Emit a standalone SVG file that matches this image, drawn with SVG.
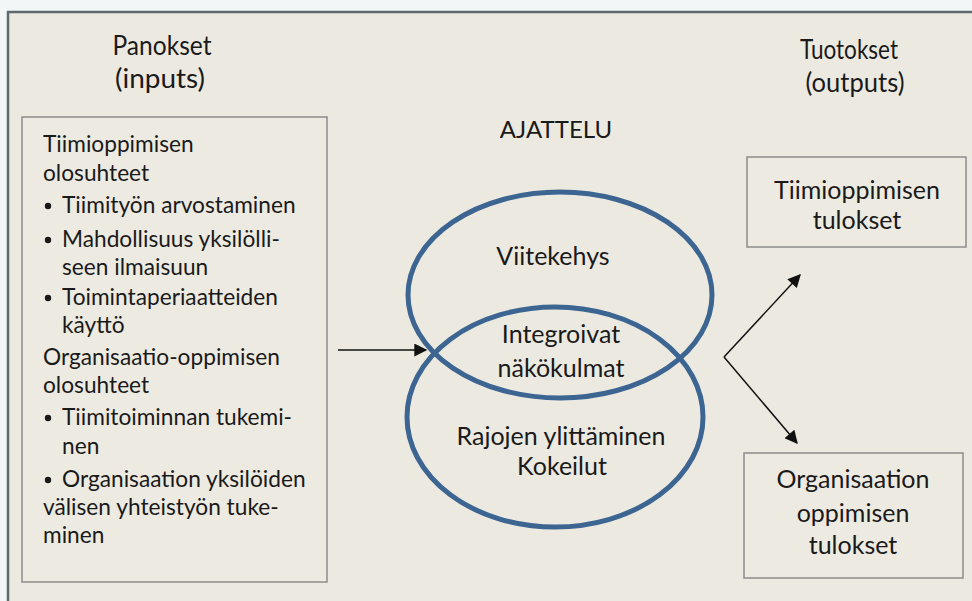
<svg xmlns="http://www.w3.org/2000/svg" width="972" height="601" viewBox="0 0 972 601">
  <style>
    text { font-family: Lato, "Open Sans", "Liberation Sans", sans-serif; fill: #1a1a1a; }
    .body { font-size: 22.7px; }
    .big { font-size: 25px; text-anchor: middle; }
    .head { font-size: 26px; text-anchor: middle; }
    .mid { text-anchor: middle; }
    .box { fill: #EDEAE2; stroke: #8c8c8a; stroke-width: 1.5; }
    .ring { fill: none; stroke: #3d6592; stroke-width: 5; }
    .link { fill: none; stroke: #111; stroke-width: 1.5; }
  </style>
  <defs>
    <marker id="arrowBig" viewBox="0 0 10 10" refX="9" refY="5" markerWidth="17" markerHeight="13" markerUnits="userSpaceOnUse" orient="auto">
      <path d="M0,0 L10,5 L0,10 Z" fill="#111"/>
    </marker>
  </defs>

  <!-- page and frame -->
  <rect x="0" y="0" width="972" height="601" fill="#F3F6F6"/>
  <rect x="8" y="12" width="980" height="600" fill="#ECE9E1" stroke="#5f6a70" stroke-width="2.5"/>

  <!-- column headings -->
  <g id="heading-inputs">
    <text class="head" x="162" y="55" textLength="99" lengthAdjust="spacingAndGlyphs">Panokset</text>
    <text class="head" x="160" y="88" textLength="90" lengthAdjust="spacingAndGlyphs">(inputs)</text>
  </g>
  <g id="heading-outputs">
    <text class="head" x="849" y="59" textLength="98" lengthAdjust="spacingAndGlyphs">Tuotokset</text>
    <text class="head" x="855" y="92" textLength="99" lengthAdjust="spacingAndGlyphs">(outputs)</text>
  </g>
  <g id="heading-thinking">
    <text class="mid" x="556" y="138" font-size="24">AJATTELU</text>
  </g>

  <!-- inputs box -->
  <g id="inputs">
    <rect class="box" x="22" y="117" width="305" height="465"/>
    <text class="body" x="43" y="152">Tiimioppimisen</text>
    <text class="body" x="43" y="181">olosuhteet</text>
    <circle cx="48" cy="206" r="3.2" fill="#1a1a1a"/>
    <text class="body" x="62" y="213">Tiimityön arvostaminen</text>
    <circle cx="48" cy="240" r="3.2" fill="#1a1a1a"/>
    <text class="body" x="62" y="247">Mahdollisuus yksilölli-</text>
    <text class="body" x="62" y="275">seen ilmaisuun</text>
    <circle cx="48" cy="298" r="3.2" fill="#1a1a1a"/>
    <text class="body" x="62" y="305">Toimintaperiaatteiden</text>
    <text class="body" x="62" y="333">käyttö</text>
    <text class="body" x="43" y="365">Organisaatio-oppimisen</text>
    <text class="body" x="43" y="393">olosuhteet</text>
    <circle cx="48" cy="418" r="3.2" fill="#1a1a1a"/>
    <text class="body" x="62" y="425">Tiimitoiminnan tukemi-</text>
    <text class="body" x="62" y="454">nen</text>
    <circle cx="48" cy="480" r="3.2" fill="#1a1a1a"/>
    <text class="body" x="62" y="487">Organisaation yksilöiden</text>
    <text class="body" x="43" y="515">välisen yhteistyön tuke-</text>
    <text class="body" x="43" y="543">minen</text>
  </g>

  <!-- thinking: two overlapping rings -->
  <g id="frame-of-reference">
    <ellipse class="ring" cx="560" cy="295" rx="152" ry="103"/>
    <text class="big" x="553" y="265">Viitekehys</text>
  </g>
  <g id="experiments">
    <ellipse class="ring" cx="555" cy="417" rx="148" ry="110"/>
    <text class="big" x="561" y="445">Rajojen ylittäminen</text>
    <text class="big" x="562" y="475">Kokeilut</text>
  </g>
  <g id="integrating-views">
    <text class="big" x="561" y="343">Integroivat</text>
    <text class="big" x="561" y="377">näkökulmat</text>
  </g>

  <!-- outputs -->
  <g id="team-results">
    <rect class="box" x="747" y="157" width="219" height="90"/>
    <text class="big" x="857" y="199">Tiimioppimisen</text>
    <text class="big" x="857" y="229">tulokset</text>
  </g>
  <g id="organisation-results">
    <rect class="box" x="744" y="453" width="219" height="125"/>
    <text class="big" x="853" y="488">Organisaation</text>
    <text class="big" x="853" y="522">oppimisen</text>
    <text class="big" x="853" y="554">tulokset</text>
  </g>

  <!-- connectors -->
  <g id="connectors">
    <line class="link" x1="338" y1="350" x2="426" y2="350" marker-end="url(#arrowBig)"/>
    <line class="link" x1="724" y1="357" x2="800" y2="275" marker-end="url(#arrowBig)"/>
    <line class="link" x1="724" y1="357" x2="797" y2="443" marker-end="url(#arrowBig)"/>
  </g>
</svg>
